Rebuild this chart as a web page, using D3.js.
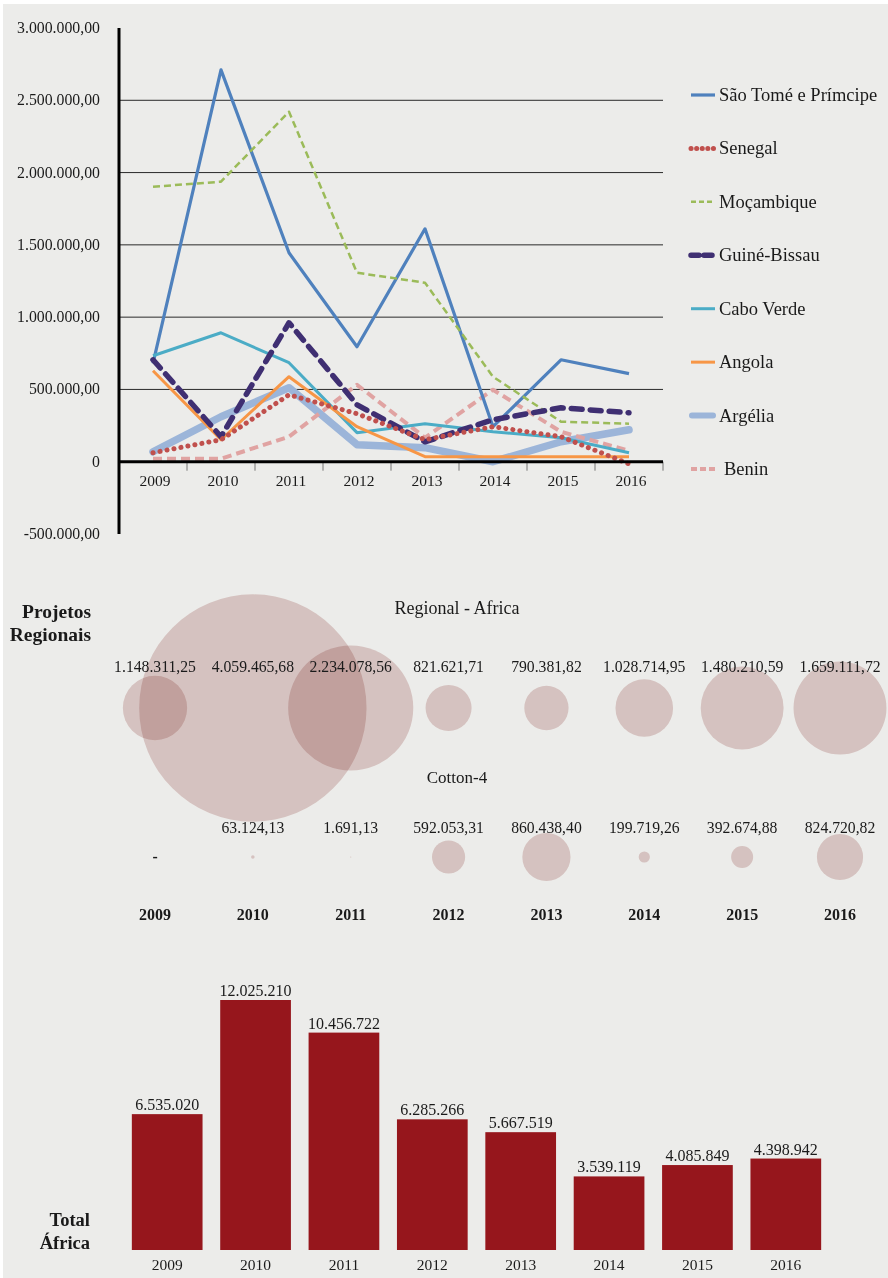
<!DOCTYPE html>
<html>
<head>
<meta charset="utf-8">
<script src="https://cdn.jsdelivr.net/npm/d3@7"></script>
<style>
  html, body { margin: 0; padding: 0; background: #ffffff; }
  svg { display: block; }
  text { font-family: "Liberation Serif", "DejaVu Serif", serif; fill: #1a1a1a; }
</style>
</head>
<body>
<svg id="chart" width="888" height="1278"></svg>
<script>
// ---- Data ----
const years = ["2009", "2010", "2011", "2012", "2013", "2014", "2015", "2016"];

const countries = ["São Tomé e Prímcipe", "Senegal", "Moçambique", "Guiné-Bissau", "Cabo Verde", "Angola", "Argélia", "Benin"];

const saoTome     = [680000, 2710000, 1445000, 795000, 1611000, 242000, 705000, 609000];
const senegal     = [62000, 152000, 463000, 332000, 152000, 242000, 173000, -15000];
const mocambique  = [1902000, 1937000, 2421000, 1307000, 1238000, 588000, 277000, 263000];
const guineBissau = [705000, 173000, 961000, 394000, 138000, 290000, 373000, 339000];
const caboVerde   = [733000, 892000, 685000, 201000, 263000, 207000, 166000, 62000];
const angola      = [629000, 152000, 588000, 242000, 35000, 35000, 35000, 35000];
const argelia     = [69000, 311000, 512000, 118000, 97000, 0, 138000, 221000];
const benin       = [21000, 21000, 173000, 532000, 166000, 498000, 207000, 76000];

const yTicks = [-500000, 0, 500000, 1000000, 1500000, 2000000, 2500000, 3000000];

const regionalAfrica = [1148311.25, 4059465.68, 2234078.56, 821621.71, 790381.82, 1028714.95, 1480210.59, 1659111.72];
const cotton4        = [null, 63124.13, 1691.13, 592053.31, 860438.40, 199719.26, 392674.88, 824720.82];

const totalAfrica = [6535020, 12025210, 10456722, 6285266, 5667519, 3539119, 4085849, 4398942];

// ---- Series styling ----
const styles = {
  "São Tomé e Prímcipe": { color: "#4f81bd", width: 3.2, dash: null,    cap: "butt" },
  "Senegal":             { color: "#c0504d", width: 5,   dash: "0.1 7", cap: "round" },
  "Moçambique":          { color: "#9bbb59", width: 2.5, dash: "7 4",   cap: "butt" },
  "Guiné-Bissau":        { color: "#3f2f72", width: 5.5, dash: "11 8",  cap: "round" },
  "Cabo Verde":          { color: "#4bacc6", width: 3,   dash: null,    cap: "butt" },
  "Angola":              { color: "#f79646", width: 3,   dash: null,    cap: "butt" },
  "Argélia":             { color: "#9cb5d9", width: 7.5, dash: null,    cap: "round" },
  "Benin":               { color: "#e0a3a2", width: 4,   dash: "9 5",   cap: "butt" }
};
const legendDash = { "Senegal": "0.1 5.5", "Guiné-Bissau": "8 5", "Moçambique": "5 3", "Benin": "6 3" };
const seriesValues = {
  "São Tomé e Prímcipe": saoTome, "Senegal": senegal, "Moçambique": mocambique,
  "Guiné-Bissau": guineBissau, "Cabo Verde": caboVerde, "Angola": angola,
  "Argélia": argelia, "Benin": benin
};
// drawing order (later on top)
const drawOrder = ["Argélia", "Benin", "São Tomé e Prímcipe", "Moçambique", "Cabo Verde", "Angola", "Guiné-Bissau", "Senegal"];

const ptBR = d3.formatLocale({ decimal: ",", thousands: ".", grouping: [3], currency: ["R$", ""], minus: "-" });
const fmt2 = ptBR.format(",.2f");
const fmt0 = ptBR.format(",.0f");

const svg = d3.select("#chart");

// page background
svg.append("rect").attr("x", 3).attr("y", 4).attr("width", 885).attr("height", 1274).attr("fill", "#ececea");

// ================= Line chart =================
const x = d3.scaleBand().domain(years).range([119, 663]).padding(0);
const y = d3.scaleLinear().domain([-500000, 3000000]).range([534, 28]);
const xc = d => x(d) + x.bandwidth() / 2;

const lineG = svg.append("g");

// gridlines
lineG.selectAll(".grid").data(yTicks.filter(t => t > 0 && t < 3000000)).join("line")
  .attr("x1", 119).attr("x2", 663)
  .attr("y1", d => y(d)).attr("y2", d => y(d))
  .attr("stroke", "#2a2a2a").attr("stroke-width", 1);

// y tick labels
lineG.selectAll(".ylab").data(yTicks).join("text")
  .attr("x", 100).attr("y", d => y(d) + 5)
  .attr("text-anchor", "end").attr("font-size", 15.8)
  .text(d => d === 0 ? "0" : fmt2(d));

// x tick marks at band boundaries
lineG.selectAll(".xtick").data(years).join("line")
  .attr("x1", d => x(d) + x.bandwidth()).attr("x2", d => x(d) + x.bandwidth())
  .attr("y1", y(0)).attr("y2", y(0) + 9)
  .attr("stroke", "#777").attr("stroke-width", 1);

// x labels
lineG.selectAll(".xlab").data(years).join("text")
  .attr("x", d => xc(d) + 2).attr("y", y(0) + 24)
  .attr("text-anchor", "middle").attr("font-size", 15.5)
  .text(d => d);

// series
const line = d3.line().x((d, i) => xc(years[i])).y(d => y(d));
drawOrder.forEach(name => {
  const s = styles[name];
  lineG.append("path")
    .datum(seriesValues[name])
    .attr("d", line)
    .attr("fill", "none")
    .attr("stroke", s.color)
    .attr("stroke-width", s.width)
    .attr("stroke-linecap", s.cap)
    .attr("stroke-linejoin", "round")
    .attr("stroke-dasharray", s.dash);
});

// axes lines
lineG.append("line").attr("x1", 119).attr("x2", 663).attr("y1", y(0)).attr("y2", y(0))
  .attr("stroke", "#000").attr("stroke-width", 3);
lineG.append("line").attr("x1", 119).attr("x2", 119).attr("y1", y(3000000)).attr("y2", y(-500000))
  .attr("stroke", "#000").attr("stroke-width", 3);

// legend
const legY = d3.scalePoint().domain(countries).range([95, 469]);
const leg = svg.append("g");
countries.forEach(name => {
  const s = styles[name];
  const yy = legY(name);
  leg.append("line")
    .attr("x1", name === "Argélia" ? 692 : 691).attr("x2", name === "Argélia" ? 713 : 715)
    .attr("y1", yy).attr("y2", yy)
    .attr("stroke", s.color)
    .attr("stroke-width", Math.min(s.width, 6))
    .attr("stroke-linecap", s.cap)
    .attr("stroke-dasharray", legendDash[name] || null);
  leg.append("text")
    .attr("x", name === "Benin" ? 724 : 719).attr("y", yy + 6)
    .attr("font-size", 18.5)
    .text(name);
});

// ================= Bubble rows =================
const bx = d3.scalePoint().domain(years).range([155, 840]);
const r = d3.scaleLinear().domain([0, 1000000]).range([0, 28]);
const bubbleFill = "rgb(231,210,209)";

const bub = svg.append("g");

bub.append("text").attr("x", 91).attr("y", 618).attr("text-anchor", "end")
  .attr("font-size", 19.5).attr("font-weight", "bold").text("Projetos");
bub.append("text").attr("x", 91).attr("y", 641).attr("text-anchor", "end")
  .attr("font-size", 19.5).attr("font-weight", "bold").text("Regionais");

bub.append("text").attr("x", 457).attr("y", 614).attr("text-anchor", "middle")
  .attr("font-size", 18).text("Regional - Africa");

const regRows = years.map((yr, i) => ({ yr, v: regionalAfrica[i] }));
bub.append("g").selectAll("circle").data(regRows).join("circle")
  .attr("cx", d => bx(d.yr)).attr("cy", 708).attr("r", d => r(d.v))
  .attr("fill", bubbleFill).style("mix-blend-mode", "multiply");
bub.append("g").selectAll("text").data(regRows).join("text")
  .attr("x", d => bx(d.yr)).attr("y", 672).attr("text-anchor", "middle").attr("font-size", 15.7)
  .text(d => fmt2(d.v));

bub.append("text").attr("x", 457).attr("y", 783).attr("text-anchor", "middle")
  .attr("font-size", 17).text("Cotton-4");

const cotRows = years.map((yr, i) => ({ yr, v: cotton4[i] }));
bub.append("g").selectAll("circle").data(cotRows.filter(d => d.v !== null)).join("circle")
  .attr("cx", d => bx(d.yr)).attr("cy", 857).attr("r", d => Math.max(r(d.v), 0.6))
  .attr("fill", bubbleFill).style("mix-blend-mode", "multiply");
bub.append("g").selectAll("text").data(cotRows).join("text")
  .attr("x", d => bx(d.yr)).attr("y", d => d.v === null ? 862 : 833)
  .attr("text-anchor", "middle").attr("font-size", 15.7)
  .attr("font-weight", d => d.v === null ? "bold" : null)
  .text(d => d.v === null ? "-" : fmt2(d.v));

bub.append("g").selectAll("text").data(years).join("text")
  .attr("x", d => bx(d)).attr("y", 920).attr("text-anchor", "middle")
  .attr("font-size", 16).attr("font-weight", "bold")
  .text(d => d);

// ================= Total Africa bars =================
const barX = d3.scaleBand().domain(years).range([123, 830]).paddingInner(0.2).paddingOuter(0.1);
const barY = d3.scaleLinear().domain([0, 12025210]).range([1250, 1000]);

const bars = svg.append("g");
const barRows = years.map((yr, i) => ({ yr, v: totalAfrica[i] }));
bars.selectAll("rect").data(barRows).join("rect")
  .attr("x", d => barX(d.yr)).attr("width", barX.bandwidth())
  .attr("y", d => barY(d.v)).attr("height", d => barY(0) - barY(d.v))
  .attr("fill", "#96161c");
bars.append("g").selectAll("text").data(barRows).join("text")
  .attr("x", d => barX(d.yr) + barX.bandwidth() / 2).attr("y", d => barY(d.v) - 4)
  .attr("text-anchor", "middle").attr("font-size", 16)
  .text(d => fmt0(d.v));
bars.append("g").selectAll("text.yr").data(years).join("text")
  .attr("x", d => barX(d) + barX.bandwidth() / 2).attr("y", 1270)
  .attr("text-anchor", "middle").attr("font-size", 15.5)
  .text(d => d);

bars.append("text").attr("x", 90).attr("y", 1226).attr("text-anchor", "end")
  .attr("font-size", 18.5).attr("font-weight", "bold").text("Total");
bars.append("text").attr("x", 90).attr("y", 1249).attr("text-anchor", "end")
  .attr("font-size", 18.5).attr("font-weight", "bold").text("África");
</script>
</body>
</html>
